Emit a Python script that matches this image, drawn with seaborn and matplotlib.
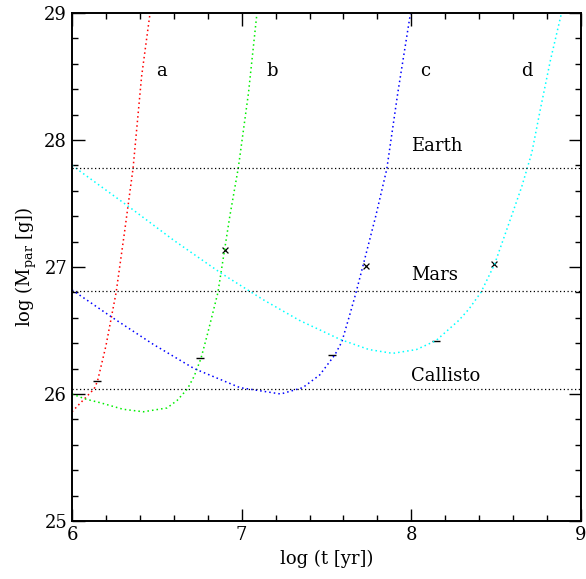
import matplotlib
matplotlib.use('Agg')
import matplotlib.pyplot as plt
import seaborn as sns
import pandas as pd
from matplotlib.ticker import MultipleLocator

# curve a (red)
a_t = [6.00, 6.05, 6.13, 6.15, 6.20, 6.26, 6.31, 6.36, 6.41, 6.46]
a_m = [25.86, 25.93, 26.04, 26.10, 26.38, 26.80, 27.28, 27.78, 28.50, 29.00]
# curve b (green)
b_t = [6.00, 6.08, 6.17, 6.30, 6.42, 6.56, 6.62, 6.68, 6.72, 6.76, 6.80, 6.86, 6.93, 6.98, 7.04, 7.09]
b_m = [26.00, 25.96, 25.93, 25.88, 25.86, 25.89, 25.95, 26.04, 26.14, 26.28, 26.48, 26.80, 27.40, 27.78, 28.37, 29.00]
# curve c (blue)
c_t = [6.00, 6.24, 6.48, 6.72, 6.99, 7.23, 7.36, 7.46, 7.55, 7.59, 7.634, 7.67, 7.715, 7.79, 7.855, 7.92, 7.995]
c_m = [26.82, 26.60, 26.39, 26.20, 26.05, 26.00, 26.05, 26.15, 26.31, 26.41, 26.61, 26.78, 27.01, 27.40, 27.77, 28.37, 29.00]
# curve d (cyan)
d_t = [6.00, 6.34, 6.60, 6.88, 7.13, 7.34, 7.58, 7.75, 7.89, 8.03, 8.145, 8.28, 8.34, 8.41, 8.49, 8.59, 8.65, 8.71, 8.76, 8.82, 8.885]
d_m = [27.80, 27.47, 27.21, 26.95, 26.74, 26.58, 26.43, 26.35, 26.32, 26.35, 26.42, 26.58, 26.67, 26.80, 27.02, 27.40, 27.63, 27.90, 28.24, 28.63, 29.00]

# markers on each curve
cross_t = [6.90, 7.73, 8.49]
cross_m = [27.13, 27.01, 27.02]
dash_t = [6.15, 6.755, 7.53, 8.145]
dash_m = [26.10, 26.28, 26.31, 26.42]

# reference bodies
body_names = ['Earth', 'Mars', 'Callisto']
body_m = [27.78, 26.81, 26.04]
body_label_t = [8.0, 8.0, 8.0]
body_label_m = [27.95, 26.94, 26.14]

curve_names = ['a', 'b', 'c', 'd']
curve_label_t = [6.53, 7.18, 8.08, 8.68]
curve_label_m = [28.54, 28.54, 28.54, 28.54]

sns.set_theme(style='ticks')
plt.rcParams['font.family'] = ['DejaVu Serif']
plt.rcParams['mathtext.fontset'] = 'dejavuserif'
plt.rcParams['text.color'] = 'black'
plt.rcParams['axes.labelcolor'] = 'black'
plt.rcParams['xtick.color'] = 'black'
plt.rcParams['ytick.color'] = 'black'

fig = plt.figure(figsize=(5.86, 5.79), dpi=100)
ax = fig.add_axes([0.1229, 0.1002, 0.8686, 0.8773])

curves = [(a_t, a_m, '#ff0000'), (b_t, b_m, '#00ee00'), (c_t, c_m, '#0000ff'), (d_t, d_m, '#00ffff')]
for t, m, col in curves:
    df = pd.DataFrame({'t': t, 'm': m})
    sns.lineplot(data=df, x='t', y='m', ax=ax, sort=False, estimator=None,
                 color=col, linestyle=(0, (1, 2)), linewidth=1.1)

for m in body_m:
    ax.axhline(m, color='black', linestyle=(0, (1, 2)), linewidth=0.9)

sns.scatterplot(x=cross_t, y=cross_m, ax=ax, marker='x', color='black', s=18, linewidth=0.9)
sns.scatterplot(x=dash_t, y=dash_m, ax=ax, marker='_', color='black', s=40, linewidth=1.0)

for name, x, y in zip(body_names, body_label_t, body_label_m):
    ax.text(x, y, name, fontsize=13, ha='left', va='center')
for name, x, y in zip(curve_names, curve_label_t, curve_label_m):
    ax.text(x, y, name, fontsize=13, ha='center', va='center')

ax.set_xlim(6, 9)
ax.set_ylim(25, 29)
ax.xaxis.set_major_locator(MultipleLocator(1))
ax.xaxis.set_minor_locator(MultipleLocator(0.2))
ax.yaxis.set_major_locator(MultipleLocator(1))
ax.yaxis.set_minor_locator(MultipleLocator(0.2))
ax.tick_params(which='both', direction='in', top=True, right=True, labelsize=13, width=1.0, color='black')
ax.tick_params(which='major', length=9)
ax.tick_params(which='minor', length=4.5)
for sp in ax.spines.values():
    sp.set_linewidth(1.4)
    sp.set_color('black')

ax.set_xlabel('log (t [yr])', fontsize=13)
ax.set_ylabel(r'log (M$_{\rm par}$ [g])', fontsize=13)

fig.savefig('out.png', dpi=100)
